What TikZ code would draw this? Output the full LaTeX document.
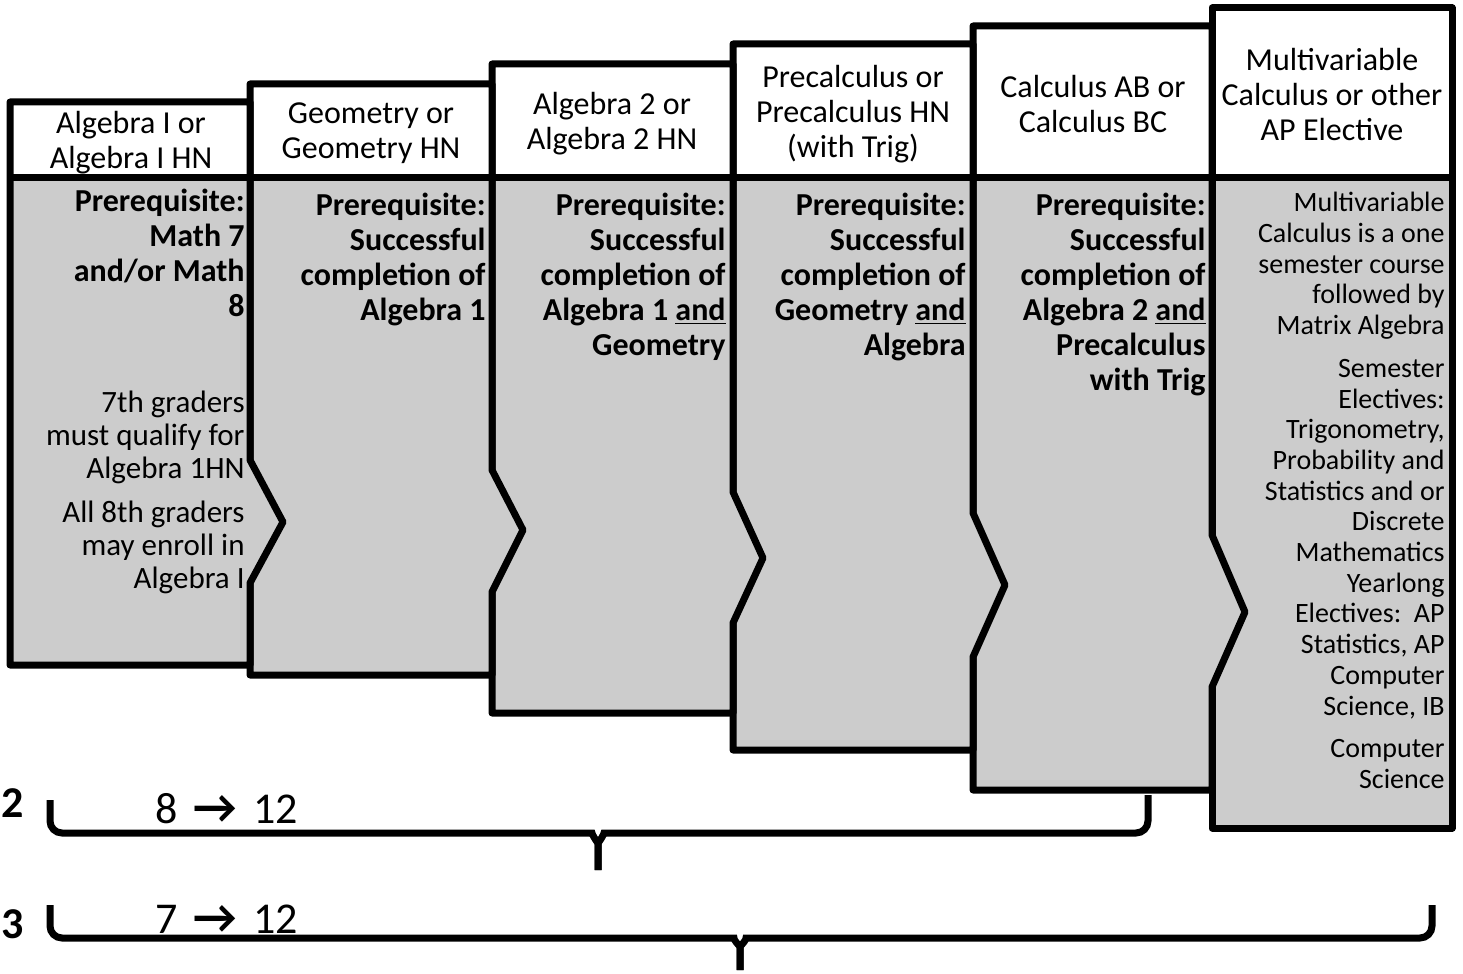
\documentclass[tikz,border=0pt]{standalone}
\usepackage{fontspec}
\setmainfont{Carlito}
\definecolor{boxgray}{RGB}{204,204,204}
\newcommand{\gradearrow}{\hspace{8pt}{\fontsize{24}{24}\bfseries →}\hspace{8pt}}
\begin{document}
\begin{tikzpicture}[x=0.5pt, y=-0.5pt,
    outline/.style={line width=3.5pt, line join=round},
    headtext/.style={align=center, inner sep=0pt, font=\fontsize{16}{17.5}\selectfont},
    pretext/.style={align=right, inner sep=0pt, anchor=north east, font=\bfseries\fontsize{16}{17.5}\selectfont},
    notetext/.style={align=right, inner sep=0pt, anchor=north east, font=\fontsize{15.5}{16.5}\selectfont},
    electext/.style={align=right, inner sep=0pt, anchor=north east, font=\fontsize{14}{15.35}\selectfont},
    gradetext/.style={inner sep=0pt, anchor=base west, font=\fontsize{22}{24}\selectfont},
    pathno/.style={inner sep=0pt, anchor=base west, font=\bfseries\fontsize{22}{24}\selectfont},
    bracket/.style={line width=3.5pt, rounded corners=6pt}]

    \useasboundingbox (0,0) rectangle (1463,974);

    % Columns (right to left, so each chevron lies over the next one)
    \foreach \l/\r/\t/\b/\ca/\ty/\cb/\d in {1212/1452/8/828/600/600/600/0,
        973/1212/26/790/535/612/687/33, 733/973/44/750/513/585/657/32,
        492/733/64/713/492/558/623/30, 250/492/84/675/470/530/592/31,
        10/250/102/665/460/522/583/33} {
      \fill[boxgray] (\l,\t) -- (\r,\t) -- (\r,\ca) -- (\r+\d,\ty) -- (\r,\cb) -- (\r,\b) -- (\l,\b) -- cycle;
      \fill[white] (\l,\t) rectangle (\r,178);
      \draw[outline] (\l,\t) -- (\r,\t) -- (\r,\ca) -- (\r+\d,\ty) -- (\r,\cb) -- (\r,\b) -- (\l,\b) -- cycle;
      \draw[outline] (\l,178) -- (\r,178);
    }

    % Headers
    \node[headtext] (head1) at (131,143) {Algebra I or\\Algebra I HN};
    \node[headtext] (head2) at (371,133) {Geometry or\\Geometry HN};
    \node[headtext] (head3) at (612,124) {Algebra 2 or\\Algebra 2 HN};
    \node[headtext] (head4) at (853,114) {Precalculus or\\Precalculus HN\\(with Trig)};
    \node[headtext] (head5) at (1093,104) {Calculus AB or\\Calculus BC};
    \node[headtext] (head6) at (1332,95) {Multivariable\\Calculus or other\\AP Elective};

    % Prerequisites
    \node[pretext] (pre1) at (245,189) {Prerequisite:\\Math 7\\and/or Math\\8};
    \node[notetext] (note1) at (245,391) {7th graders\\must qualify for\\Algebra 1HN\\[5.5pt]All 8th graders\\may enroll in\\Algebra I};
    \node[pretext] (pre2) at (486,193) {Prerequisite:\\Successful\\completion of\\Algebra 1};
    \node[pretext] (pre3) at (726,193) {Prerequisite:\\Successful\\completion of\\Algebra 1 \underline{and}\\Geometry};
    \node[pretext] (pre4) at (966,193) {Prerequisite:\\Successful\\completion of\\Geometry \underline{and}\\Algebra};
    \node[pretext] (pre5) at (1206,193) {Prerequisite:\\Successful\\completion of\\Algebra 2 \underline{and}\\Precalculus\\with Trig};
    \node[electext] (elec6) at (1445,192) {Multivariable\\Calculus is a one\\semester course\\followed by\\Matrix Algebra\\[6pt]Semester\\Electives:\\Trigonometry,\\Probability and\\Statistics and or\\Discrete\\Mathematics\\Yearlong\\Electives:~~AP\\Statistics, AP\\Computer\\Science, IB\\[6pt]Computer\\Science};

    % Pathways
    \node[pathno] (path2) at (1,817) {2};
    \node[gradetext] (grade8) at (155,823) {8\gradearrow 12};
    \draw[bracket] (50,800) -- (50,833) -- (580,833) to[out=0, in=90] (598,855) -- (598,870);
    \draw[bracket] (598,870) -- (598,855) to[out=90, in=180] (616,833) -- (1148,833) -- (1148,795);

    \node[pathno] (path3) at (1,938) {3};
    \node[gradetext] (grade7) at (155,933) {7\gradearrow 12};
    \draw[bracket] (50,905) -- (50,938) -- (722,938) to[out=0, in=90] (740,958) -- (740,970);
    \draw[bracket] (740,970) -- (740,958) to[out=90, in=180] (758,938) -- (1432,938) -- (1432,905);
  \end{tikzpicture}
\end{document}
